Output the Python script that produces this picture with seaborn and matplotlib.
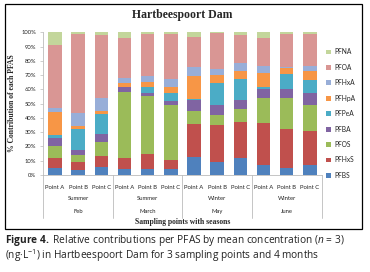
import numpy as np
import pandas as pd
import seaborn as sns
import matplotlib
matplotlib.use("Agg")
import matplotlib.pyplot as plt
import matplotlib.transforms as mtransforms
from matplotlib.patches import Rectangle
from matplotlib.ticker import FuncFormatter

# % contribution of each PFAS per sampling point (bottom -> top of stack)
months = ["Feb", "March", "May", "June"]
seasons = ["Summer", "Summer", "Winter", "Winter"]
points = ["Point A", "Point B", "Point C"]

compounds = ["PFBS", "PFHxS", "PFOS", "PFBA", "PFPeA", "PFHpA", "PFHxA", "PFOA", "PFNA"]
pfbs  = [5.0, 3.5, 5.8, 4.2, 4.2, 4.3, 12.6, 9.3, 11.7, 7.0, 4.7, 7.0]
pfhxs = [7.0, 5.8, 7.5, 7.5, 10.5, 6.2, 23.4, 25.7, 25.7, 29.7, 27.3, 23.8]
pfos  = [8.3, 4.7, 10.1, 46.5, 40.7, 38.8, 8.9, 7.0, 8.6, 17.3, 22.2, 18.2]
pfba  = [5.9, 3.5, 5.6, 3.2, 2.3, 2.6, 7.6, 7.0, 6.2, 6.3, 6.3, 8.2]
pfpea = [2.1, 14.9, 13.5, 0.0, 4.2, 5.3, 0.7, 15.5, 14.8, 1.3, 10.0, 9.6]
pfhpa = [15.9, 2.2, 2.5, 2.9, 3.5, 4.7, 16.4, 5.9, 5.9, 10.1, 4.5, 5.8]
pfhxa = [2.4, 8.6, 8.7, 3.5, 4.2, 5.1, 6.1, 3.8, 5.8, 4.7, 0.5, 4.0]
pfoa  = [44.7, 55.4, 44.2, 28.0, 29.6, 32.0, 21.3, 25.1, 19.7, 19.6, 23.5, 22.0]
pfna  = [8.7, 1.4, 2.1, 4.2, 0.8, 1.0, 3.0, 0.7, 1.6, 4.0, 1.0, 1.4]

colors = {"PFBS": "#4F81BD", "PFHxS": "#C0504D", "PFOS": "#9BBB59",
          "PFBA": "#8064A2", "PFPeA": "#4BACC6", "PFHpA": "#F79646",
          "PFHxA": "#98AED8", "PFOA": "#D99694", "PFNA": "#C3D69B"}

bar_ids = [m + " " + p for m in months for p in points]
df = pd.DataFrame(dict(zip(compounds, [pfbs, pfhxs, pfos, pfba, pfpea, pfhpa, pfhxa, pfoa, pfna])))
df["bar"] = bar_ids
cum = df[compounds].cumsum(axis=1)

sns.set_style("white")
plt.rcParams["font.family"] = ["Lato", "DejaVu Sans"]
plt.rcParams["mathtext.fontset"] = "custom"
plt.rcParams["mathtext.rm"] = "Open Sans"
plt.rcParams["mathtext.it"] = "Open Sans:italic"
plt.rcParams["mathtext.bf"] = "Open Sans:bold"

fig = plt.figure(figsize=(3.7, 2.72), dpi=100)
ax = fig.add_axes([0.117, 0.357, 0.752, 0.524])

# draw cumulative totals from the top layer down so the stack shows through
for comp in reversed(compounds):
    sns.barplot(x=df["bar"], y=cum[comp], order=bar_ids, color=colors[comp],
                saturation=1, width=0.58, errorbar=None, linewidth=0,
                label=comp, ax=ax)

handles, labels = ax.get_legend_handles_labels()
if ax.get_legend() is not None:
    ax.get_legend().remove()

ax.set_ylim(0, 100)
ax.set_xlim(-0.5, len(bar_ids) - 0.5)
ax.set_yticks(range(0, 101, 10))
ax.yaxis.set_major_formatter(FuncFormatter(lambda v, p: f"{v:.0f}%"))
ax.set_xticks(range(len(bar_ids)))
ax.set_xticklabels(points * len(months))
ax.set_xlabel("")
ax.set_ylabel("")
ax.tick_params(axis="x", length=0, labelsize=4.2, pad=7, colors="#222222")
ax.tick_params(axis="y", length=2.5, width=0.5, color="#BBBBBB", labelsize=4.2,
               pad=2.5, labelcolor="#222222", left=True)
for s in ["top", "right"]:
    ax.spines[s].set_visible(False)
for s in ["left", "bottom"]:
    ax.spines[s].set_color("#BBBBBB")
    ax.spines[s].set_linewidth(0.6)

# season / month rows and group separators
trans = mtransforms.blended_transform_factory(ax.transData, ax.transAxes)
for i, (season, month) in enumerate(zip(seasons, months)):
    xc = i * 3 + 1
    ax.text(xc, -0.165, season, transform=trans, ha="center", va="center",
            fontsize=4.2, color="#222222")
    ax.text(xc, -0.26, month, transform=trans, ha="center", va="center",
            fontsize=4.2, color="#222222")
for xb in np.arange(-0.5, len(bar_ids), 3):
    ax.plot([xb, xb], [0, -0.30], transform=trans, color="#BBBBBB", lw=0.6,
            clip_on=False)

# legend, top layer first
fig.legend(handles, labels, loc="upper left", bbox_to_anchor=(0.872, 0.835),
           frameon=False, fontsize=4.8, handlelength=0.7, handleheight=0.7,
           handletextpad=0.5, labelspacing=1.27, borderpad=0)

fig.text(0.493, 0.945, "Hartbeespoort Dam", ha="center", va="center",
         fontsize=8.5, fontweight="bold", family="Liberation Serif")
fig.text(0.032, 0.62, "% Contribution of each PFAS", ha="center", va="center",
         rotation=90, fontsize=5.5, fontweight="bold", family="Liberation Serif")
fig.text(0.493, 1 - 222 / 272, "Sampling points with seasons", ha="center",
         va="center", fontsize=5.5, fontweight="bold", family="Liberation Serif")

# chart frame
fig.patches.append(Rectangle((5 / 370, 1 - 229 / 272), 357 / 370, 225 / 272,
                             transform=fig.transFigure, fill=False,
                             edgecolor="black", linewidth=0.9))

# caption
fig.text(5 / 370, 1 - 240 / 272,
         r"$\bf{Figure\ 4.}$ Relative contributions per PFAS by mean concentration ($\it{n}$ = 3)",
         ha="left", va="center", fontsize=7.3, family="Open Sans", color="#222222")
fig.text(5 / 370, 1 - 256 / 272,
         r"(ng·L$^{-1}$) in Hartbeespoort Dam for 3 sampling points and 4 months",
         ha="left", va="center", fontsize=7.3, family="Open Sans", color="#222222")

fig.savefig("out.png", dpi=100)
